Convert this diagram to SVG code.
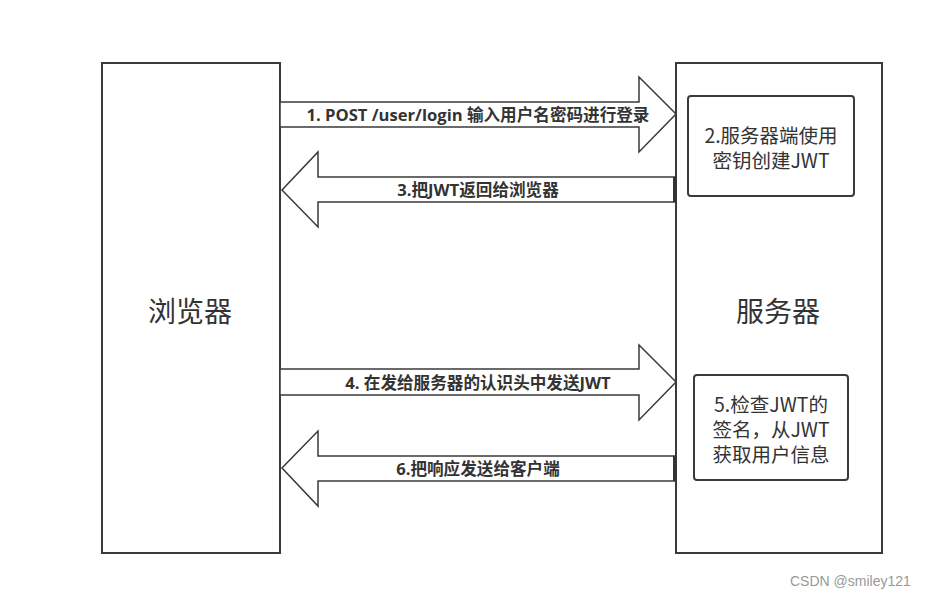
<svg xmlns="http://www.w3.org/2000/svg" width="933" height="599" viewBox="0 0 933 599">
<style>
.box{fill:#fff;stroke:#3a3a3a;stroke-width:2}
.arrow{fill:#fff;stroke:#3a3a3a;stroke-width:1.5;stroke-linejoin:miter}
.lbl{font-family:"Open Sans","Noto Sans CJK SC",sans-serif;font-weight:bold;font-size:16.6px;fill:#333;text-anchor:middle;dominant-baseline:central}
.big{font-family:"Noto Sans CJK SC",sans-serif;font-size:28px;fill:#333;text-anchor:middle;dominant-baseline:central}
.txt{font-family:"Noto Sans CJK SC",sans-serif;font-size:19.5px;fill:#333;text-anchor:middle;dominant-baseline:central}
.wm{font-family:"Liberation Sans",Arial,sans-serif;font-size:14px;fill:#999}
</style>
<rect width="933" height="599" fill="#fff"/>
<g id="browser">
<rect class="box" x="102" y="63" width="178" height="490"/>
<text class="big" x="190" y="310">浏览器</text>
</g>
<g id="server">
<rect class="box" x="676" y="63" width="206" height="490"/>
<text class="big" x="778" y="310">服务器</text>
</g>
<g id="step2">
<rect class="box" x="688" y="96" width="166" height="100" rx="3"/>
<text class="txt" x="771" y="134">2.服务器端使用</text>
<text class="txt" x="771" y="159">密钥创建JWT</text>
</g>
<g id="step5">
<rect class="box" x="694" y="375" width="154" height="105" rx="3"/>
<text class="txt" x="771" y="403">5.检查JWT的</text>
<text class="txt" x="771" y="428">签名，从JWT</text>
<text class="txt" x="771" y="453">获取用户信息</text>
</g>
<g id="connectors">
<polygon class="arrow" points="280,102 639,102 639,77 676,114 639,152 639,127 280,127"/>
<text class="lbl" x="478" y="114">1. POST /user/login 输入用户名密码进行登录</text>
<polygon class="arrow" points="675,177 318,177 318,152 282,190 318,227 318,202 675,202"/>
<line x1="674.5" y1="177" x2="674.5" y2="202" stroke="#333" stroke-width="3"/>
<text class="lbl" x="478" y="189">3.把JWT返回给浏览器</text>
<polygon class="arrow" points="280,369 639,369 639,345 676,382 639,420 639,395 280,395"/>
<text class="lbl" x="478" y="382">4. 在发给服务器的认识头中发送JWT</text>
<polygon class="arrow" points="675,456 318,456 318,431 282,468 318,506 318,481 675,481"/>
<line x1="674.5" y1="456" x2="674.5" y2="481" stroke="#333" stroke-width="3"/>
<text class="lbl" x="478" y="468">6.把响应发送给客户端</text>
</g>
<text class="wm" x="790" y="586">CSDN @smiley121</text>
</svg>
